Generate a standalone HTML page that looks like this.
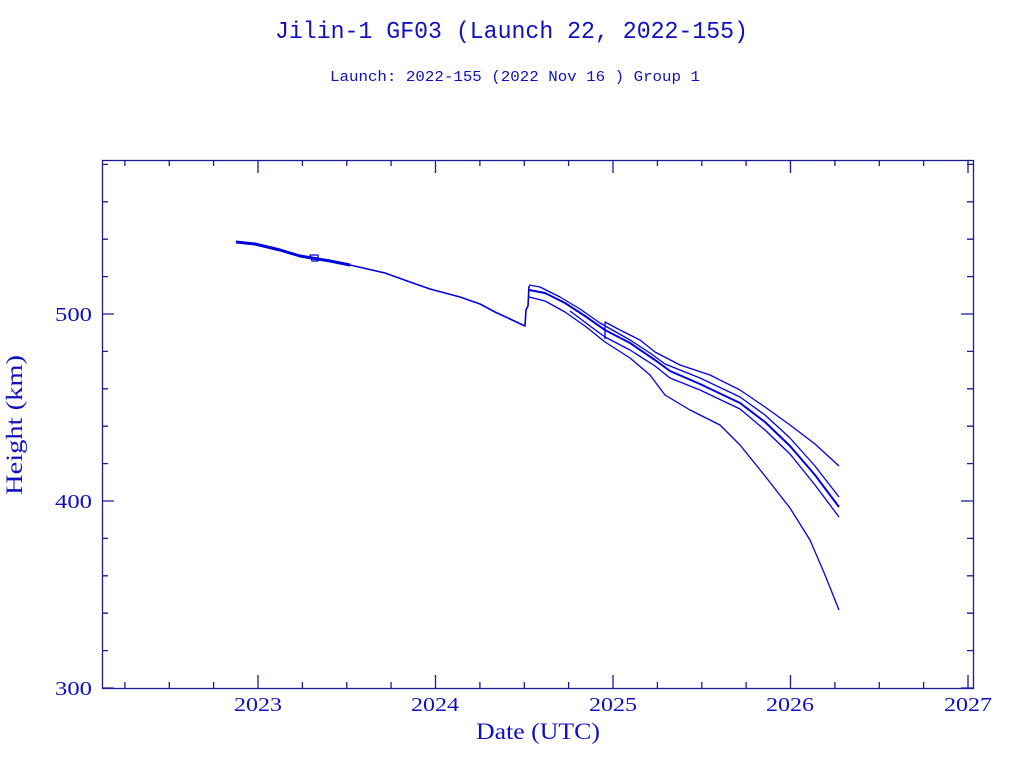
<!DOCTYPE html>
<html><head><meta charset="utf-8"><style>
html,body{margin:0;padding:0;background:#fff;}
svg{display:block;}
text{fill:#1010c0;font-family:"Liberation Serif",serif;}
</style></head><body>
<svg width="1024" height="768" viewBox="0 0 1024 768" xmlns="http://www.w3.org/2000/svg">
<text x="275" y="38" textLength="473" lengthAdjust="spacingAndGlyphs" font-size="24" style="font-family:'Liberation Mono',monospace">Jilin-1 GF03 (Launch 22, 2022-155)</text>
<text x="330" y="81" textLength="370" lengthAdjust="spacingAndGlyphs" font-size="15" style="font-family:'Liberation Mono',monospace">Launch: 2022-155  (2022 Nov 16 )  Group 1</text>
<g stroke="#1a1a9a" stroke-width="1.3" fill="none">
<rect x="102.5" y="160.5" width="871" height="528"/>
<path d="M102 650.6h6M102 613.2h6M102 575.8h6M102 538.4h6M102 463.6h6M102 426.2h6M102 388.8h6M102 351.4h6M102 276.6h6M102 239.2h6M102 201.8h6M102 164.4h6
M973 650.6h-6M973 613.2h-6M973 575.8h-6M973 538.4h-6M973 463.6h-6M973 426.2h-6M973 388.8h-6M973 351.4h-6M973 276.6h-6M973 239.2h-6M973 201.8h-6M973 164.4h-6
M102 688h12M102 501h12M102 314h12M973 688h-12M973 501h-12M973 314h-12"/>
<path d="M124.9 688v-6M169.3 688v-6M213.6 688v-6M302.4 688v-6M346.8 688v-6M391.1 688v-6M479.9 688v-6M524.3 688v-6M568.6 688v-6M657.4 688v-6M701.8 688v-6M746.1 688v-6M834.9 688v-6M879.3 688v-6M923.6 688v-6
M124.9 160v6M169.3 160v6M213.6 160v6M302.4 160v6M346.8 160v6M391.1 160v6M479.9 160v6M524.3 160v6M568.6 160v6M657.4 160v6M701.8 160v6M746.1 160v6M834.9 160v6M879.3 160v6M923.6 160v6
M258 688v-13M435.5 688v-13M613 688v-13M790.5 688v-13M968 688v-13
M258 160v13M435.5 160v13M613 160v13M790.5 160v13M968 160v13"/>
</g>
<g font-size="20">
<text x="55" y="695" textLength="37" lengthAdjust="spacingAndGlyphs">300</text>
<text x="55" y="508" textLength="37" lengthAdjust="spacingAndGlyphs">400</text>
<text x="55" y="321" textLength="37" lengthAdjust="spacingAndGlyphs">500</text>
<text x="234" y="711" textLength="48" lengthAdjust="spacingAndGlyphs">2023</text>
<text x="411" y="711" textLength="48" lengthAdjust="spacingAndGlyphs">2024</text>
<text x="589" y="711" textLength="48" lengthAdjust="spacingAndGlyphs">2025</text>
<text x="766" y="711" textLength="48" lengthAdjust="spacingAndGlyphs">2026</text>
<text x="944" y="711" textLength="48" lengthAdjust="spacingAndGlyphs">2027</text>
</g>
<text x="476" y="739" textLength="124" lengthAdjust="spacingAndGlyphs" font-size="23">Date (UTC)</text>
<text transform="translate(22,495) rotate(-90)" textLength="140" lengthAdjust="spacingAndGlyphs" font-size="23">Height (km)</text>
<g fill="none" stroke="#0000e0" stroke-linejoin="round">
<path stroke-width="3" d="M236 242 L255 244 L280 250 L300 256 L312 258 L330 261 L350 265"/>
<path stroke-width="1.3" d="M310 255h8v6h-6z"/>
<path stroke-width="1.6" d="M350 265 L385 273 L410 282 L430 289 L460 297 L480 304 L495 312 L525 326 L526 310 L528 306 L529 286"/>
<path stroke-width="1.3" d="M529 285 L540 287 L560 297 L580 309 L600 323 L630 340 L650 353 L665 364 L700 378 L740 397 L765 415 L790 438 L815 466 L839 497"/>
<path stroke-width="2" d="M529 290 L545 293 L565 303 L585 316 L605 330 L630 343 L655 360 L670 371 L700 384 L740 403 L765 422 L790 446 L815 475 L839 507"/>
<path stroke-width="1.3" d="M529 297 L545 301 L565 312 L585 326 L605 342 L630 358 L650 375 L665 395 L690 410 L720 425 L740 445 L765 476 L790 508 L810 540 L825 575 L839 610"/>
<path stroke-width="1.3" d="M605 339 L605 322 L620 330 L640 340 L655 352 L680 365 L710 375 L740 390 L765 407 L790 425 L815 444 L839 466"/>
<path stroke-width="1.3" d="M570 311 L590 326 L605 337 L630 350 L655 366 L670 378 L700 390 L740 409 L765 430 L790 454 L815 485 L839 517"/>
</g>
</svg>
</body></html>
